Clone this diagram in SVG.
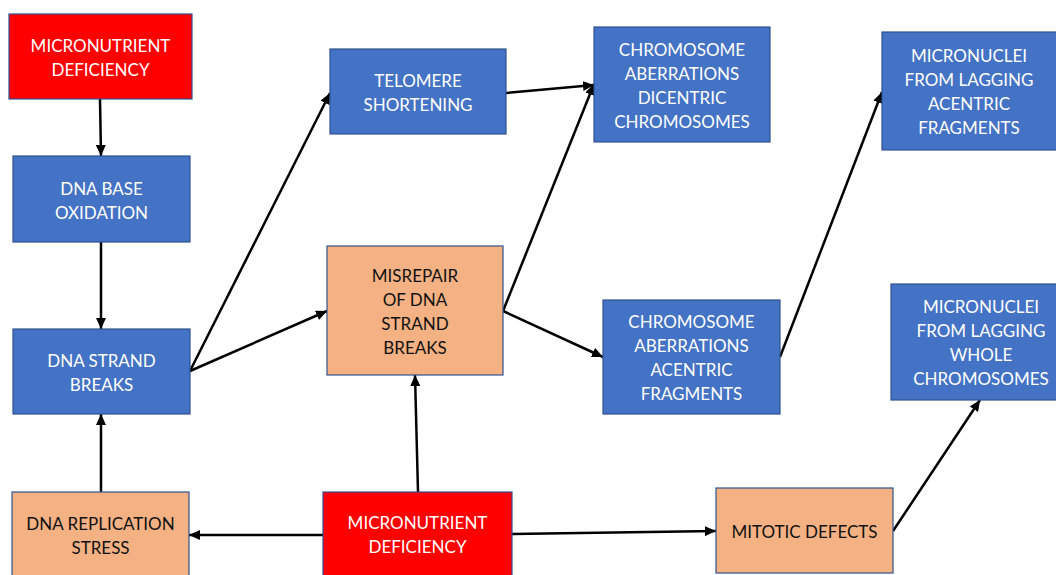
<svg xmlns="http://www.w3.org/2000/svg" width="1056" height="575" viewBox="0 0 1056 575">
<style>
.b{fill:#4472C4;stroke:#2F528F;stroke-width:1.2}
.r{fill:#FF0000;stroke:#2F528F;stroke-width:1.2}
.o{fill:#F4B183;stroke:#2F528F;stroke-width:1.2}
text{font-family:Lato,"Open Sans","Liberation Sans",sans-serif;font-size:17px;text-anchor:middle;dominant-baseline:central}
.w{fill:#FFFFFF}
.k{fill:#111111}
.c line{stroke:#000;stroke-width:2.5;marker-end:url(#ah)}
</style>
<defs>
<marker id="ah" markerUnits="userSpaceOnUse" markerWidth="12" markerHeight="10" refX="11" refY="5" orient="auto">
<path d="M0,0 L11,5 L0,10 Z" fill="#000"/>
</marker>
</defs>
<rect width="1056" height="575" fill="#FFFFFF"/>
<g class="c">
<line x1="100" y1="99" x2="101" y2="156"/>
<line x1="101" y1="242" x2="101" y2="329"/>
<line x1="101" y1="492" x2="101" y2="414"/>
<line x1="190" y1="371" x2="330" y2="93"/>
<line x1="190" y1="371" x2="327" y2="311"/>
<line x1="506" y1="93" x2="594" y2="85"/>
<line x1="503" y1="311" x2="594" y2="84"/>
<line x1="503" y1="311" x2="603" y2="357"/>
<line x1="780" y1="357" x2="882" y2="92"/>
<line x1="418" y1="492" x2="415" y2="375"/>
<line x1="323" y1="535" x2="189" y2="535"/>
<line x1="512" y1="534" x2="716" y2="531"/>
<line x1="893" y1="531" x2="980" y2="400"/>
</g>
<g id="md-top"><rect class="r" x="9" y="14" width="183" height="85"/><text class="w" x="100.5" y="45">MICRONUTRIENT</text><text class="w" x="100.5" y="69">DEFICIENCY</text></g>
<g id="dna-base"><rect class="b" x="13" y="156" width="177" height="86"/><text class="w" x="101.5" y="188">DNA BASE</text><text class="w" x="101.5" y="212">OXIDATION</text></g>
<g id="dna-strand"><rect class="b" x="13" y="329" width="177" height="85"/><text class="w" x="101.5" y="360">DNA STRAND</text><text class="w" x="101.5" y="384">BREAKS</text></g>
<g id="dna-rep"><rect class="o" x="12" y="492" width="177" height="90"/><text class="k" x="100.5" y="523">DNA REPLICATION</text><text class="k" x="100.5" y="547">STRESS</text></g>
<g id="md-bottom"><rect class="r" x="323" y="492" width="189" height="90"/><text class="w" x="417.5" y="522">MICRONUTRIENT</text><text class="w" x="417.5" y="546">DEFICIENCY</text></g>
<g id="misrepair"><rect class="o" x="327" y="246" width="176" height="129"/><text class="k" x="415" y="275">MISREPAIR</text><text class="k" x="415" y="299">OF DNA</text><text class="k" x="415" y="323">STRAND</text><text class="k" x="415" y="347">BREAKS</text></g>
<g id="telomere"><rect class="b" x="330" y="49" width="176" height="85"/><text class="w" x="418" y="80">TELOMERE</text><text class="w" x="418" y="104">SHORTENING</text></g>
<g id="dicentric"><rect class="b" x="594" y="27" width="176" height="115"/><text class="w" x="682" y="49">CHROMOSOME</text><text class="w" x="682" y="73">ABERRATIONS</text><text class="w" x="682" y="97">DICENTRIC</text><text class="w" x="682" y="121">CHROMOSOMES</text></g>
<g id="mn-acentric"><rect class="b" x="882" y="32" width="180" height="118"/><text class="w" x="969" y="55">MICRONUCLEI</text><text class="w" x="969" y="79">FROM LAGGING</text><text class="w" x="969" y="103">ACENTRIC</text><text class="w" x="969" y="127">FRAGMENTS</text></g>
<g id="acentric"><rect class="b" x="603" y="300" width="177" height="114"/><text class="w" x="691.5" y="321">CHROMOSOME</text><text class="w" x="691.5" y="345">ABERRATIONS</text><text class="w" x="691.5" y="369">ACENTRIC</text><text class="w" x="691.5" y="393">FRAGMENTS</text></g>
<g id="mn-whole"><rect class="b" x="891" y="284" width="171" height="116"/><text class="w" x="981" y="306">MICRONUCLEI</text><text class="w" x="981" y="330">FROM LAGGING</text><text class="w" x="981" y="354">WHOLE</text><text class="w" x="981" y="378">CHROMOSOMES</text></g>
<g id="mitotic"><rect class="o" x="716" y="488" width="177" height="85"/><text class="k" x="804.5" y="531">MITOTIC DEFECTS</text></g>
</svg>
